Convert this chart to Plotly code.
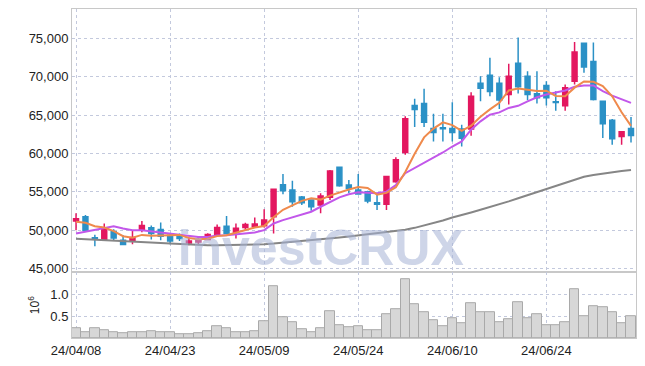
import plotly.graph_objects as go
from plotly.subplots import make_subplots

dates = ["24/04/08","24/04/09","24/04/11","24/04/12","24/04/15","24/04/16","24/04/17","24/04/18","24/04/19","24/04/22",
         "24/04/23","24/04/24","24/04/25","24/04/26","24/04/29","24/04/30","24/05/02","24/05/03","24/05/07","24/05/08",
         "24/05/09","24/05/10","24/05/13","24/05/14","24/05/16","24/05/17","24/05/20","24/05/21","24/05/22","24/05/23",
         "24/05/24","24/05/27","24/05/28","24/05/29","24/05/30","24/05/31","24/06/03","24/06/04","24/06/05","24/06/07",
         "24/06/10","24/06/11","24/06/12","24/06/13","24/06/14","24/06/17","24/06/18","24/06/19","24/06/20","24/06/21",
         "24/06/24","24/06/25","24/06/26","24/06/27","24/06/28","24/07/01","24/07/02","24/07/03","24/07/04","24/07/05"]

opens = [51200,51750,49000,48700,49780,48690,48600,50000,50300,50090,
         49350,49210,48340,48470,48780,49480,50520,49740,50350,50480,
         50560,51740,55930,55240,54320,53930,53270,54280,58210,55890,
         55240,55020,53570,53360,56320,60120,66230,66490,63260,63350,
         63260,63180,63180,69150,70200,69150,67670,71750,70070,67760,
         68850,66720,66200,69410,74350,71990,66790,64310,62210,63260]
highs = [52190,51960,49400,50870,50130,49350,50000,51180,50610,51000,
         49560,49560,49040,49120,49600,50750,51830,50870,50960,51660,
         52710,55400,57330,56450,54450,54020,54800,57850,58300,56540,
         57330,55150,54670,57100,59510,64830,67110,68420,65180,65180,
         66660,63740,67970,70070,72480,69940,71690,75090,70720,70720,
         69410,68110,68980,74520,74400,74440,66900,64490,62900,64750]
lows = [50000,49900,47900,48600,48690,48100,48170,49740,48780,48690,
        48170,48600,48040,48040,48690,49350,49480,48910,50000,50300,
        50350,49560,54670,53050,53270,52530,52190,53930,55670,54800,
        54670,53490,52620,52620,56190,59820,63440,63440,61560,61560,
        61560,60900,62300,66790,67450,65800,66360,67800,66920,66490,
        66230,65570,65570,68980,70500,66880,62000,61130,61130,61430]
closes = [51500,50000,48800,50130,48990,48130,49040,50610,49570,49210,
          48600,48910,48600,48780,49440,50350,49560,50260,50750,50790,
          51310,55330,55140,53710,53570,53050,54450,57720,55800,55460,
          54710,53800,53360,56980,59160,64530,65710,64050,62740,63220,
          62740,61960,67450,68500,68070,66950,70070,68690,67670,67240,
          67240,66620,68550,73210,71250,67010,63870,61910,62830,62340]
volumes = [220000,130000,220000,170000,130000,110000,130000,130000,150000,130000,
           130000,80000,80000,110000,150000,260000,220000,130000,130000,150000,
           390000,1180000,480000,370000,190000,130000,220000,610000,300000,240000,
           260000,170000,170000,550000,660000,1340000,770000,590000,410000,260000,
           460000,330000,790000,590000,580000,370000,440000,810000,460000,550000,
           300000,300000,350000,1120000,500000,720000,700000,590000,330000,500000]
ma_short = [51090,50960,50520,50350,49880,49210,49020,49380,49270,49310,
            49410,49380,48980,48820,48870,49220,49350,49680,50070,50340,
            50530,51690,52660,53260,53810,54160,53980,54500,54920,55300,
            55630,55500,54630,54860,55600,57570,59950,62090,63240,64050,
            63690,62940,63620,64770,65740,66590,68210,68460,68290,68120,
            68180,67490,67460,68570,69370,69330,68780,67450,65370,63590]
ma_mid = [49560,49800,50100,50300,50520,50220,50000,50000,49870,49700,
          49560,49440,49300,49120,49120,49300,49350,49480,49560,49700,
          50000,50870,51310,51660,52090,52400,53050,53710,54280,54670,
          54930,54880,54800,55020,55890,57420,58070,58730,59380,60120,
          60900,61560,63090,64180,65050,65350,65930,66200,66790,67320,
          67670,67970,68200,68680,68850,68850,68110,67540,67110,66580]
ma_long = [48870,48820,48760,48700,48640,48580,48520,48460,48400,48330,
           48270,48200,48140,48080,48040,48030,48040,48060,48090,48130,
           48170,48250,48350,48450,48550,48690,48800,48920,49040,49170,
           49330,49450,49580,49720,49880,50050,50300,50600,50900,51250,
           51650,51950,52300,52650,53000,53400,53750,54150,54550,54950,
           55330,55750,56150,56550,56950,57200,57400,57550,57700,57850]
tick_dates = ["24/04/08","24/04/23","24/05/09","24/05/24","24/06/10","24/06/24"]
price_ticks = [45000,50000,55000,60000,65000,70000,75000]
vol_ticks = [500000,1000000]
vol_tick_text = ["0.5","1.0"]
watermark = "investCRUX"

FONT = "Liberation Sans, Arial, sans-serif"
GRID = "#c3c9dd"
LINE = "#c8c8c8"
TICKFONT = dict(family=FONT, size=13, color="#222")

fig = make_subplots(rows=2, cols=1, shared_xaxes=True, vertical_spacing=0,
                    row_heights=[0.8, 0.2])

# watermark drawn first so that the marks sit on top of it
fig.add_trace(go.Scatter(x=[0.441], y=[47050], mode="text", text=["<b>" + watermark + "</b>"],
                         textposition="middle center", cliponaxis=False, hoverinfo="skip",
                         textfont=dict(family="Liberation Sans, Arial, sans-serif", size=50,
                                       color="rgba(165,178,214,0.55)"),
                         xaxis="x3", yaxis="y"))

fig.add_trace(go.Bar(x=dates, y=volumes, marker=dict(color="#d7d7d7",
                     line=dict(color="#a9a9a9", width=1)), width=1.0,
                     hoverinfo="skip"), row=2, col=1)

fig.add_trace(go.Scatter(x=dates, y=ma_long, mode="lines",
                         line=dict(color="#868686", width=2)), row=1, col=1)
fig.add_trace(go.Scatter(x=dates, y=ma_mid, mode="lines",
                         line=dict(color="#c257ea", width=2)), row=1, col=1)
fig.add_trace(go.Scatter(x=dates, y=ma_short, mode="lines",
                         line=dict(color="#ef8a4c", width=2)), row=1, col=1)
fig.add_trace(go.Candlestick(x=dates, open=opens, high=highs, low=lows, close=closes,
                             increasing=dict(line=dict(color="#e3175f", width=1.5), fillcolor="#e3175f"),
                             decreasing=dict(line=dict(color="#2b91c6", width=1.5), fillcolor="#2b91c6"),
                             whiskerwidth=0), row=1, col=1)

xcommon = dict(type="category", tickvals=tick_dates, ticktext=tick_dates,
               range=[-0.43, 59.53], showgrid=True, gridcolor=GRID, griddash="dot",
               gridwidth=1, showline=True, linecolor=LINE, linewidth=1, mirror=True,
               ticks="", automargin=False, tickfont=TICKFONT)
fig.update_xaxes(**xcommon)
fig.update_xaxes(showticklabels=False, rangeslider=dict(visible=False), row=1, col=1)
fig.update_xaxes(showticklabels=True, row=2, col=1)

fig.update_yaxes(range=[44520, 78820], tickvals=price_ticks, tickformat=",",
                 showgrid=True, gridcolor=GRID, griddash="dot", gridwidth=1,
                 showline=True, linecolor=LINE, linewidth=1, mirror=True,
                 ticks="", zeroline=False, automargin=False,
                 tickfont=TICKFONT, row=1, col=1)
fig.update_yaxes(range=[0, 1500000], tickvals=vol_ticks, ticktext=vol_tick_text,
                 showgrid=True, gridcolor=GRID, griddash="dot", gridwidth=1,
                 showline=True, linecolor=LINE, linewidth=1, mirror=True,
                 ticks="", zeroline=False, automargin=False,
                 title=dict(text="10<sup>6</sup>", font=dict(family=FONT, size=12, color="#222"),
                            standoff=8),
                 tickfont=TICKFONT, row=2, col=1)

fig.update_layout(width=645, height=366, margin=dict(l=72, r=9, t=9, b=28),
                  plot_bgcolor="white", paper_bgcolor="white", showlegend=False,
                  bargap=0, boxgap=0.25,
                  xaxis3=dict(overlaying="x", anchor="y", range=[0, 1], visible=False,
                              automargin=False))

fig.write_html("out.html", config={"displayModeBar": False},
               post_script="document.body.style.margin='0px';")
